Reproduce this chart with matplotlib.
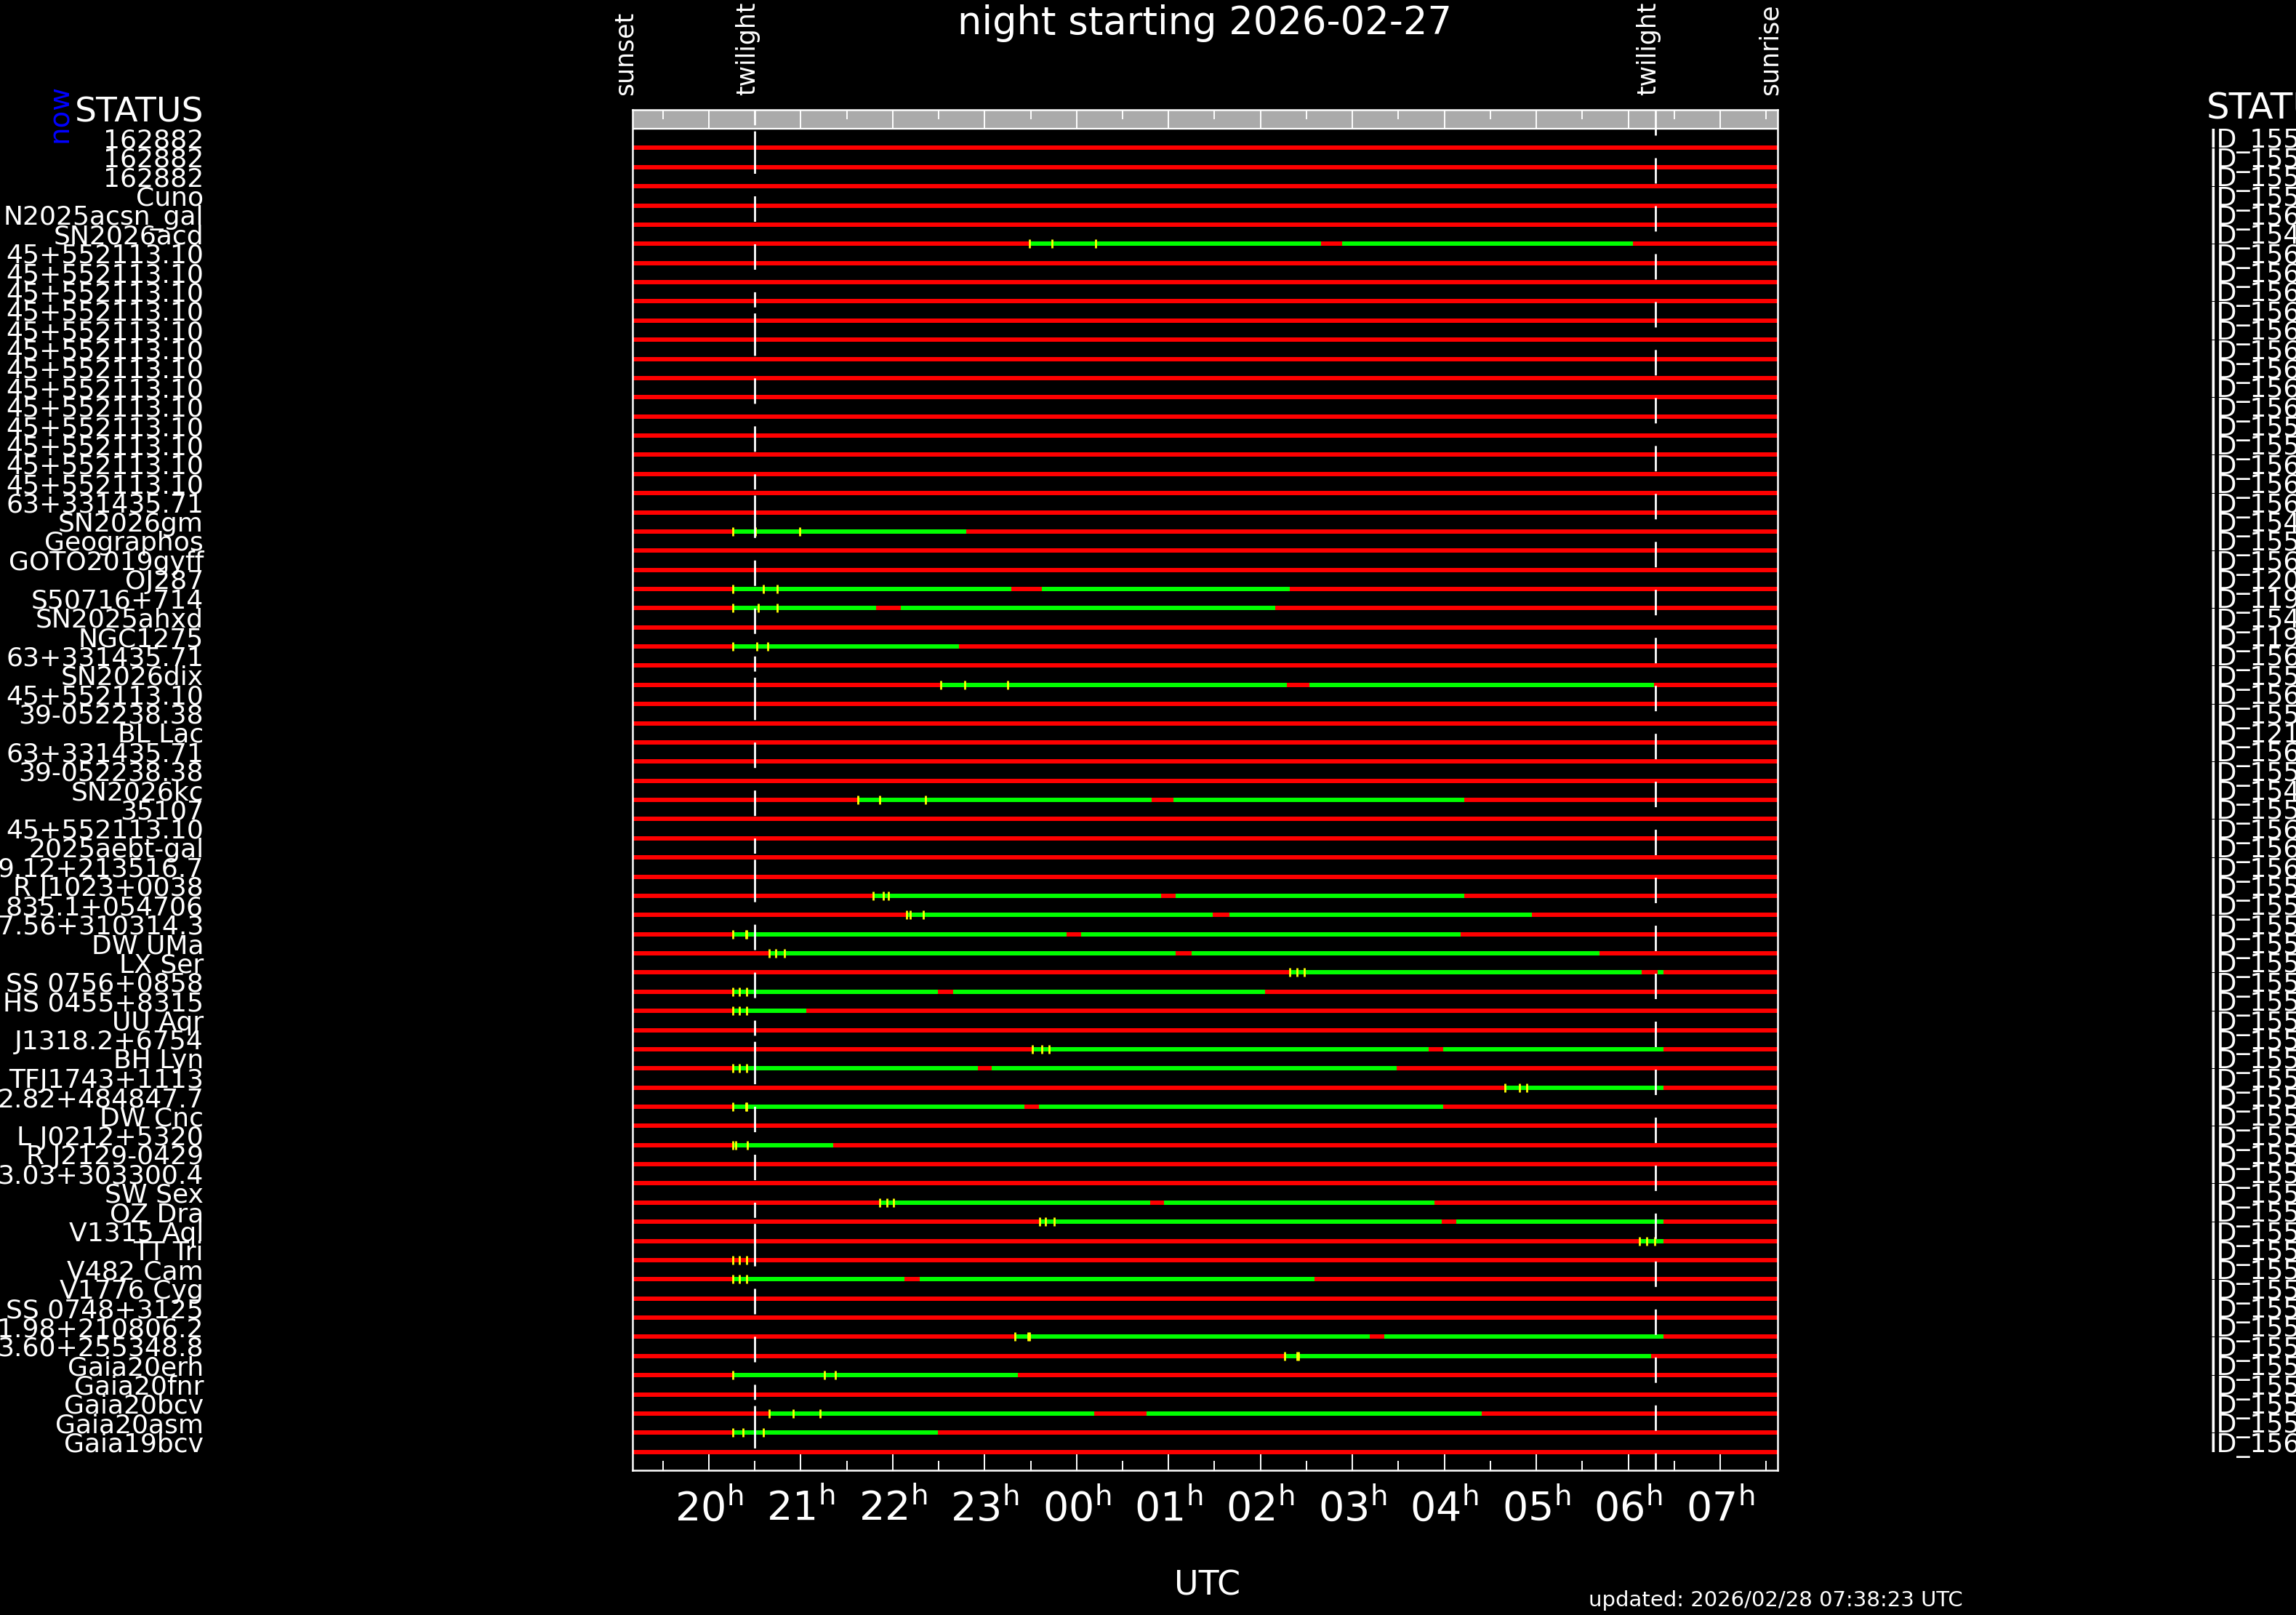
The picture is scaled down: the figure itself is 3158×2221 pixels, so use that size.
import matplotlib
matplotlib.use('Agg')
import matplotlib.pyplot as plt
import matplotlib.transforms as mtransforms

W, H, DPI = 3158, 2221, 100

# target names (left column, as visible) and program ids (right column)
names = ['162882', '162882', '162882', 'Cuno', 'N2025acsn_gal', 'SN2026acd',
         '45+552113.10', '45+552113.10', '45+552113.10', '45+552113.10', '45+552113.10',
         '45+552113.10', '45+552113.10', '45+552113.10', '45+552113.10', '45+552113.10',
         '45+552113.10', '45+552113.10', '45+552113.10',
         '63+331435.71', 'SN2026gm', 'Geographos', 'GOTO2019gyff', 'OJ287', 'S50716+714',
         'SN2025ahxd', 'NGC1275', '63+331435.71', 'SN2026dix', '45+552113.10',
         '39-052238.38', 'BL Lac', '63+331435.71', '39-052238.38', 'SN2026kc', '35107',
         '45+552113.10', '2025aebt-gal', '9.12+213516.7', 'R J1023+0038', '835.1+054706',
         '7.56+310314.3', 'DW UMa', 'LX Ser', 'SS 0756+0858', 'HS 0455+8315', 'UU Aqr',
         'J1318.2+6754', 'BH Lyn', 'TFJ1743+1113', '2.82+484847.7', 'DW Cnc',
         'L J0212+5320', 'R J2129-0429', '3.03+303300.4', 'SW Sex', 'OZ Dra', 'V1315 Aql',
         'TT Tri', 'V482 Cam', 'V1776 Cyg', 'SS 0748+3125', '1.98+210806.2',
         '3.60+255348.8', 'Gaia20erh', 'Gaia20fnr', 'Gaia20bcv', 'Gaia20asm', 'Gaia19bcv']

ids = ['ID_155', 'ID_155', 'ID_155', 'ID_155', 'ID_156', 'ID_154',
       'ID_156', 'ID_156', 'ID_156', 'ID_156', 'ID_156', 'ID_156', 'ID_156',
       'ID_156', 'ID_156', 'ID_155', 'ID_155', 'ID_156', 'ID_156',
       'ID_156', 'ID_154', 'ID_155', 'ID_156', 'ID_120', 'ID_119', 'ID_154', 'ID_119',
       'ID_156', 'ID_155', 'ID_156', 'ID_155', 'ID_121', 'ID_156', 'ID_155', 'ID_154',
       'ID_155', 'ID_156', 'ID_156', 'ID_156', 'ID_155', 'ID_155', 'ID_155', 'ID_155',
       'ID_155', 'ID_155', 'ID_155', 'ID_155', 'ID_155', 'ID_155', 'ID_155', 'ID_155',
       'ID_155', 'ID_155', 'ID_155', 'ID_155', 'ID_155', 'ID_155', 'ID_155', 'ID_155',
       'ID_155', 'ID_155', 'ID_155', 'ID_155', 'ID_155', 'ID_155', 'ID_155', 'ID_155',
       'ID_155', 'ID_156']

# times in hours UTC counted from midnight of the starting date
sunset, twilight_eve, twilight_morn, sunrise = 19.17, 20.50, 30.30, 31.625
hours = [20, 21, 22, 23, 24, 25, 26, 27, 28, 29, 30, 31]
hour_labels = ['20', '21', '22', '23', '00', '01', '02', '03', '04', '05', '06', '07']

# observable windows (green) per row number
visible = {
    6: [(23.49, 26.66), (26.89, 30.05)],
    21: [(20.26, 22.80)],
    24: [(20.26, 23.29), (23.62, 26.32)],
    25: [(20.26, 21.82), (22.09, 26.16)],
    27: [(20.26, 22.72)],
    29: [(22.52, 26.29), (26.53, 30.28)],
    35: [(21.62, 24.82), (25.05, 28.22)],
    40: [(21.79, 24.92), (25.08, 28.22)],
    41: [(22.15, 25.48), (25.66, 28.95)],
    42: [(20.26, 23.89), (24.05, 28.18)],
    43: [(20.66, 25.08), (25.25, 29.69)],
    44: [(26.32, 30.15), (30.32, 30.38)],
    45: [(20.26, 22.49), (22.66, 26.05)],
    46: [(20.26, 21.06)],
    48: [(23.52, 27.83), (27.99, 30.38)],
    49: [(20.26, 22.93), (23.08, 27.48)],
    50: [(28.66, 30.38)],
    51: [(20.26, 23.43), (23.59, 27.99)],
    53: [(20.26, 21.35)],
    56: [(21.86, 24.80), (24.95, 27.89)],
    57: [(23.60, 27.97), (28.13, 30.38)],
    58: [(30.12, 30.38)],
    60: [(20.26, 22.13), (22.29, 26.59)],
    63: [(23.33, 27.19), (27.35, 30.38)],
    64: [(26.26, 30.25)],
    65: [(20.26, 23.36)],
    67: [(20.66, 24.19), (24.76, 28.41)],
    68: [(20.26, 22.49)],
}

# scheduled exposures (yellow marks) per row number
marks = {
    6: [23.49, 23.735, 24.21],
    21: [20.26, 20.51, 20.99],
    24: [20.26, 20.59, 20.74],
    25: [20.26, 20.54, 20.74],
    27: [20.26, 20.52, 20.64],
    29: [22.52, 22.78, 23.25],
    35: [21.62, 21.86, 22.36],
    40: [21.79, 21.90, 21.95],
    41: [22.15, 22.19, 22.33],
    42: [20.26, 20.40, 20.41],
    43: [20.66, 20.73, 20.82],
    44: [26.32, 26.40, 26.48],
    45: [20.26, 20.33, 20.41],
    46: [20.26, 20.33, 20.41],
    48: [23.52, 23.62, 23.70],
    49: [20.26, 20.33, 20.41],
    50: [28.66, 28.82, 28.90],
    51: [20.26, 20.40, 20.41],
    53: [20.26, 20.29, 20.42],
    56: [21.86, 21.94, 22.01],
    57: [23.60, 23.66, 23.76],
    58: [30.12, 30.20, 30.29],
    59: [20.26, 20.33, 20.41],
    60: [20.26, 20.33, 20.41],
    63: [23.33, 23.47, 23.49],
    64: [26.26, 26.40, 26.41],
    65: [20.26, 21.26, 21.38],
    67: [20.66, 20.92, 21.21],
    68: [20.26, 20.37, 20.59],
}

plt.rcParams['font.family'] = 'DejaVu Sans'
plt.rcParams['lines.scale_dashes'] = False

fig = plt.figure(figsize=(W / DPI, H / DPI), dpi=DPI, facecolor='black')
ax = fig.add_axes([870 / W, 1 - 2022 / H, (2445 - 870) / W, (2022 - 151) / H],
                  facecolor='black')

n = len(names)
rows = list(range(1, n + 1))
ax.set_xlim(sunset, sunrise)
ax.set_ylim(69.96, -0.99)

# daylight strip at the top
ax.axhspan(-0.99, 0.0, color='#aaaaaa', zorder=1)
ax.axhline(0.0, color='white', lw=1.6, zorder=5)

lw_bar = 4.3
ax.hlines(rows, sunset, sunrise, colors='#ff0000', lw=lw_bar, zorder=2, capstyle='butt')
for r, segs in visible.items():
    for a, b in segs:
        ax.hlines(r, a, b, colors='#00ff00', lw=lw_bar, zorder=3, capstyle='butt')
for r, ts in marks.items():
    ax.plot(ts, [r] * len(ts), ls='none', marker='|', ms=8.5, mew=2.0,
            color='#ffff00', zorder=4)

# twilight markers
ax.plot([twilight_eve, twilight_eve], [-0.99, 69.96], color='white', lw=2.0,
        dashes=(15, 6, 42, 22.3, 25.2, 22.3, 25.2, 22.3), zorder=6)
ax.plot([twilight_morn, twilight_morn], [-0.99, 69.96], color='white', lw=2.0,
        dashes=(25.2, 22.3), zorder=6)

# axes decoration
ax.set_xticks(hours)
ax.set_xticks([h + 0.5 for h in range(19, 32)], minor=True)
ax.set_xticklabels([s + r'$^{\rm h}$' for s in hour_labels])
ax.set_yticks([])
ax.tick_params(axis='x', which='major', direction='in', length=19.5, width=1.4,
               color='white', top=True, bottom=True, labelsize=40,
               labelcolor='white', pad=18)
ax.tick_params(axis='x', which='minor', direction='in', length=9.5, width=1.4,
               color='white', top=True, bottom=True)
for sp in ax.spines.values():
    sp.set_color('white')
    sp.set_linewidth(1.8)
    sp.set_zorder(7)

fig.text(1657 / W, 1 - 47 / H, 'night starting 2026-02-27', ha='center',
         va='baseline', size=38, color='white')
fig.text(1661 / W, 1 - 2193 / H, 'UTC', ha='center', va='baseline', size=33,
         color='white')
fig.text(2185 / W, 1 - 2209 / H, 'updated: 2026/02/28 07:38:23 UTC', ha='left',
         va='baseline', size=21, color='white')

# sun / twilight event labels above the plot
top_tr = mtransforms.blended_transform_factory(ax.transData, fig.transFigure)
for t, lab in [(sunset, 'sunset'), (twilight_eve, 'twilight'),
               (twilight_morn, 'twilight'), (sunrise, 'sunrise')]:
    ax.text(t, 1 - 131 / H, lab, transform=top_tr, rotation=90,
            rotation_mode='anchor', ha='left', va='baseline', size=25,
            color='white', clip_on=False)

# left and right label columns
row_tr = mtransforms.blended_transform_factory(fig.transFigure, ax.transData)
for r, nm, pid in zip(rows, names, ids):
    ax.text(280 / W, r, nm, transform=row_tr, ha='right', va='baseline',
            size=26, color='white', clip_on=False)
    ax.text(3038 / W, r, pid, transform=row_tr, ha='left', va='baseline',
            size=26, color='white', clip_on=False)

fig.text(280 / W, 1 - 167 / H, 'STATUS', ha='right', va='baseline', size=34,
         color='white')
fig.text(3035 / W, 1 - 164 / H, 'STATUS', ha='left', va='baseline', size=36,
         color='white')
fig.text(93 / W, 1 - 196 / H, 'now', rotation=90, rotation_mode='anchor',
         ha='left', va='baseline', size=28, color='#0000ff')

fig.savefig('out.png', dpi=DPI, facecolor='black')
